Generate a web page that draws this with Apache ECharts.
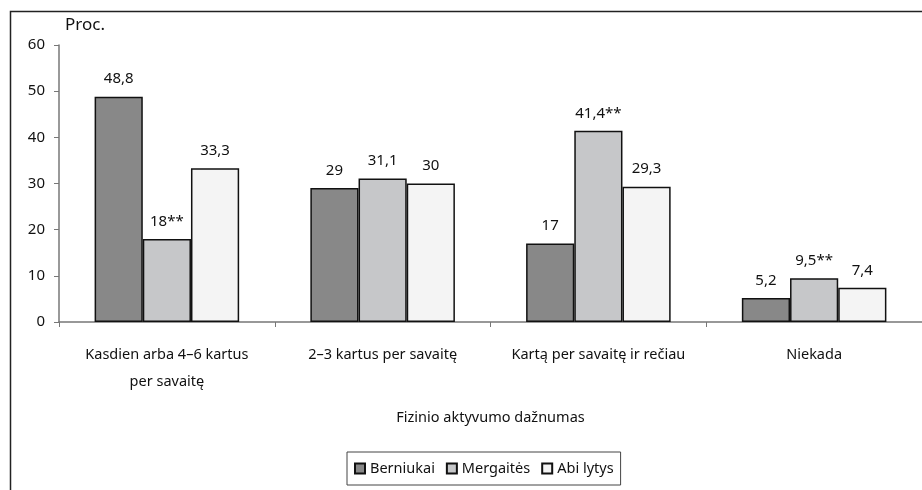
<!DOCTYPE html>
<html>
<head>
<meta charset="utf-8">
<script src="https://cdn.jsdelivr.net/npm/echarts@6/dist/echarts.min.js"></script>
<style>
  html, body { margin: 0; padding: 0; background: #fff; }
  #chart { width: 922px; height: 490px; }
</style>
</head>
<body>
<div id="chart"></div>
<script>
// kategorijos ir reikšmės
const categories = ['Kasdien arba 4–6 kartus\nper savaitę', '2–3 kartus per savaitę', 'Kartą per savaitę ir rečiau', 'Niekada'];
const berniukai = [48.8, 29, 17, 5.2];
const mergaites = [18, 31.1, 41.4, 9.5];
const abiLytys = [33.3, 30, 29.3, 7.4];
const mergaitesMark = ['**', '', '**', '**'];
const yTicks = [0, 10, 20, 30, 40, 50, 60];

const FONT = '"Noto Sans", sans-serif';

function fmt(v) {
    return String(v).replace('.', ',');
}

let chart = echarts.init(document.getElementById('chart'));

function barSeries(name, data, color, marks) {
    return {
        name: name,
        type: 'bar',
        data: data,
        barGap: '0%',
        barCategoryGap: '33%',
        itemStyle: { color: color, borderColor: '#111', borderWidth: 1.5 },
        label: {
            show: true,
            position: 'top',
            distance: 10,
            color: '#111',
            fontFamily: FONT,
            fontSize: 15,
            formatter: function (p) {
                return fmt(p.value) + (marks ? marks[p.dataIndex] : '');
            }
        }
    };
}

let option = {
    animation: false,
    textStyle: { fontFamily: FONT },
    graphic: [
        {
            type: 'rect',
            shape: { x: 10.5, y: 11.5, width: 930, height: 520 },
            style: { fill: 'none', stroke: '#222', lineWidth: 1.5 },
            z: 100
        },
        {
            type: 'text',
            left: 65, top: 17,
            style: { text: 'Proc.', fontFamily: FONT, fontSize: 17, fill: '#111' }
        }
    ],
    grid: { left: 59, top: 45, width: 870, height: 277 },
    legend: {
        left: 347, top: 452,
        icon: 'rect',
        itemWidth: 10, itemHeight: 10, itemGap: 11,
        padding: [9, 7, 9, 7],
        borderColor: '#444', borderWidth: 1,
        textStyle: { fontFamily: FONT, fontSize: 14.5, color: '#111' },
        data: ['Berniukai', 'Mergaitės', 'Abi lytys']
    },
    xAxis: {
        type: 'category',
        data: categories,
        name: 'Fizinio aktyvumo dažnumas',
        nameLocation: 'middle',
        nameGap: 88,
        nameTextStyle: { fontFamily: FONT, fontSize: 14.5, color: '#111' },
        axisLine: { lineStyle: { color: '#777', width: 1.5 } },
        axisTick: { show: true, length: 5, lineStyle: { color: '#777' } },
        axisLabel: { interval: 0, margin: 19, fontFamily: FONT, fontSize: 14.5, color: '#111', lineHeight: 27 }
    },
    yAxis: {
        type: 'value',
        min: 0, max: 60, interval: 10,
        splitLine: { show: false },
        axisLine: { show: true, lineStyle: { color: '#777', width: 1.5 } },
        axisTick: { show: true, length: 5, lineStyle: { color: '#777' } },
        axisLabel: {
            margin: 14, fontFamily: FONT, fontSize: 15, color: '#111',
            formatter: function (v) { return yTicks.indexOf(v) >= 0 ? String(v) : ''; }
        }
    },
    series: [
        barSeries('Berniukai', berniukai, '#888888'),
        barSeries('Mergaitės', mergaites, '#c6c7c9', mergaitesMark),
        barSeries('Abi lytys', abiLytys, '#f4f4f4')
    ]
};

chart.setOption(option);
</script>
</body>
</html>
